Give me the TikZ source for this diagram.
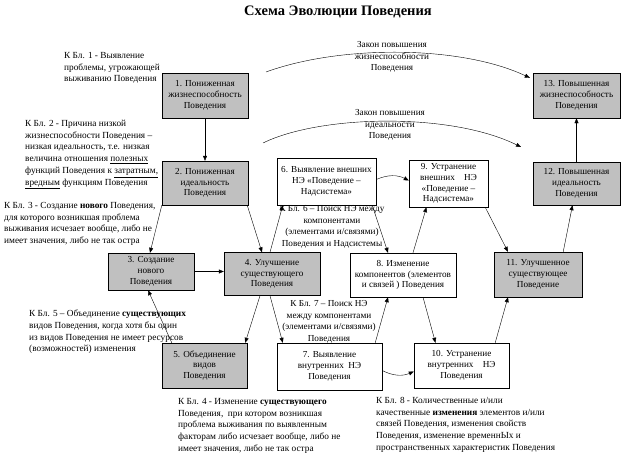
\documentclass[tikz,border=0pt]{standalone}
\usepackage{fontspec}
\setmainfont{Liberation Serif}
\usetikzlibrary{arrows.meta}
\definecolor{boxgray}{RGB}{192,192,192}

\begin{document}
\begin{tikzpicture}[x=1pt,y=-1pt,
  gbox/.style={draw,fill=boxgray,align=center,inner sep=1pt,font=\fontsize{9.2}{10.8}\selectfont},
  wbox/.style={gbox,fill=white},
  arr/.style={-{Triangle[length=5pt,width=4pt]}},
  note/.style={align=left,anchor=north west,inner sep=0pt,font=\fontsize{9.3}{11.7}\selectfont},
  law/.style={align=center,inner sep=0pt,font=\fontsize{9.2}{11.5}\selectfont}]
\useasboundingbox (0,0) rectangle (624,458);
\node[font=\fontsize{14.5}{16}\selectfont\bfseries] (title) at (338,12) {Схема Эволюции Поведения};

\node[gbox,minimum width=86pt,minimum height=45pt] (b1) at (205,95.5) {1. Пониженная\\жизнеспособность\\Поведения};
\node[gbox,minimum width=87pt,minimum height=45pt] (b13) at (576.5,95.5) {13. Повышенная\\жизнеспособность\\Поведения};
\node[gbox,minimum width=86pt,minimum height=44pt] (b2) at (205,183) {2. Пониженная\\идеальность\\Поведения};
\node[wbox,minimum width=99pt,minimum height=47pt] (b6) at (326.5,181.5) {6. Выявление внешних\\НЭ «Поведение –\\Надсистема»};
\node[wbox,minimum width=79pt,minimum height=47pt] (b9) at (448.5,183.5) {9. Устранение\\внешних\quad НЭ\\«Поведение –\\Надсистема»};
\node[gbox,minimum width=87pt,minimum height=43pt] (b12) at (576.5,183.5) {12. Повышенная\\идеальность\\Поведения};
\node[gbox,minimum width=86pt,minimum height=37pt] (b3) at (151,271.5) {3. Создание\\нового\\Поведения};
\node[gbox,minimum width=96pt,minimum height=43pt] (b4) at (272,274) {4. Улучшение\\существующего\\Поведения};
\node[wbox,minimum width=106pt,minimum height=44pt] (b8) at (403,275) {8. Изменение\\компонентов (элементов\\и связей ) Поведения};
\node[gbox,minimum width=88pt,minimum height=45pt] (b11) at (538,274.5) {11. Улучшенное\\существующее\\Поведение};
\node[gbox,minimum width=85pt,minimum height=45pt] (b5) at (204.5,365.5) {5. Объединение\\видов\\Поведения};
\node[wbox,minimum width=105pt,minimum height=47pt] (b7) at (329.5,366.5) {7. Выявление\\внутренних\enspace НЭ\\Поведения};
\node[wbox,minimum width=95pt,minimum height=45pt] (b10) at (461.5,365.5) {10. Устранение\\внутренних\quad НЭ\\Поведения};

\node[note] (n1) at (64,52) {К Бл. 1 - Выявление\\проблемы, угрожающей\\выживанию Поведения};
\node[note] (n2) at (25,120) {К Бл. 2 - Причина низкой\\жизнеспособности Поведения –\\низкая идеальность, т.е. низкая\\величина отношения \underline{полезных}\\функций Поведения к \underline{затратным,}\\\underline{вредным} функциям Поведения};
\node[note] (n3) at (4,202) {К Бл. 3 - Создание \textbf{нового} Поведения,\\для которого возникшая проблема\\выживания исчезает вообще, либо не\\имеет значения, либо не так остра};
\node[note] (n5) at (29,310) {К Бл. 5 – Объединение \textbf{существующих}\\видов Поведения, когда хотя бы один\\из видов Поведения не имеет ресурсов\\(возможностей) изменения};
\node[note] (n4) at (178,398) {К Бл. 4 - Изменение \textbf{существующего}\\Поведения,\ \ при котором возникшая\\проблема выживания по выявленным\\факторам либо исчезает вообще, либо не\\имеет значения, либо не так остра};
\node[note] (n8) at (376,397) {К Бл. 8 - Количественные и/или\\качественные \textbf{изменения} элементов и/или\\связей Поведения, изменения свойств\\Поведения, изменение временнЫх и\\пространственных характеристик Поведения};
\node[law] (n6) at (332,227) {К Бл. 6 – Поиск НЭ между\\компонентами\\(элементами и/связями)\\Поведения и Надсистемы};
\node[law] (n7) at (329,322) {К Бл. 7 – Поиск НЭ\\между компонентами\\(элементами и/связями)\\Поведения};
\node[law] (zl) at (392,57) {Закон повышения\\жизнеспособности\\Поведения};
\node[law] (il) at (390,125) {Закон повышения\\идеальности\\Поведения};

\coordinate (zj) at (266,72);
\coordinate (ij) at (263,143);
\coordinate (ie) at (521,147);
\draw[arr] (zj) .. controls (340,45) and (460,45) .. ([xshift=-3pt,yshift=-5pt]b13.north west);
\draw[arr] (ij) .. controls (320,115) and (450,112) .. (ie);

\draw[arr] (b1) -- (b2);
\draw[arr] (b2.south west) -- ([xshift=-1pt]b3.north);
\draw[arr] ([xshift=-1pt]b2.south east) -- ([xshift=-10pt]b4.north);
\draw[arr] ([xshift=-2pt]b4.north) -- ([xshift=6pt]b6.south west);
\draw[arr] ([xshift=-4pt]b6.south east) -- ([xshift=-15pt]b8.north);
\draw[arr] (b3.east) -- (b3.east -| b4.west);
\draw[arr] ([xshift=10pt]b5.north west) -- ([xshift=-3pt]b3.south);
\draw[arr] ([xshift=-12pt]b4.south) -- ([xshift=-2pt]b5.north east);
\draw[arr] ([xshift=-2pt]b4.south) -- ([xshift=6pt]b7.north west);
\draw[arr] ([xshift=-7pt]b7.north east) -- ([xshift=-15pt]b8.south);
\draw[arr] ([xshift=20pt]b8.south) -- ([xshift=-26pt]b10.north);
\draw[arr] ([xshift=-14pt]b10.north east) -- ([xshift=-30pt]b11.south);
\draw[arr] ([xshift=10pt]b8.north) -- ([xshift=-22pt]b9.south);
\draw[arr] ([xshift=-3pt]b9.south east) -- ([xshift=-30pt]b11.north);
\draw[arr] ([xshift=-19pt]b11.north east) -- ([xshift=-4pt]b12.south);
\draw[arr] (b12) -- (b13);
\draw[arr] ([yshift=2pt]b6.east) to[bend left=25] ([yshift=3pt]b9.west);
\draw[arr] ([yshift=-4pt]b7.east) to[bend right=25] ([yshift=-6pt]b10.west);
\end{tikzpicture}
\end{document}
